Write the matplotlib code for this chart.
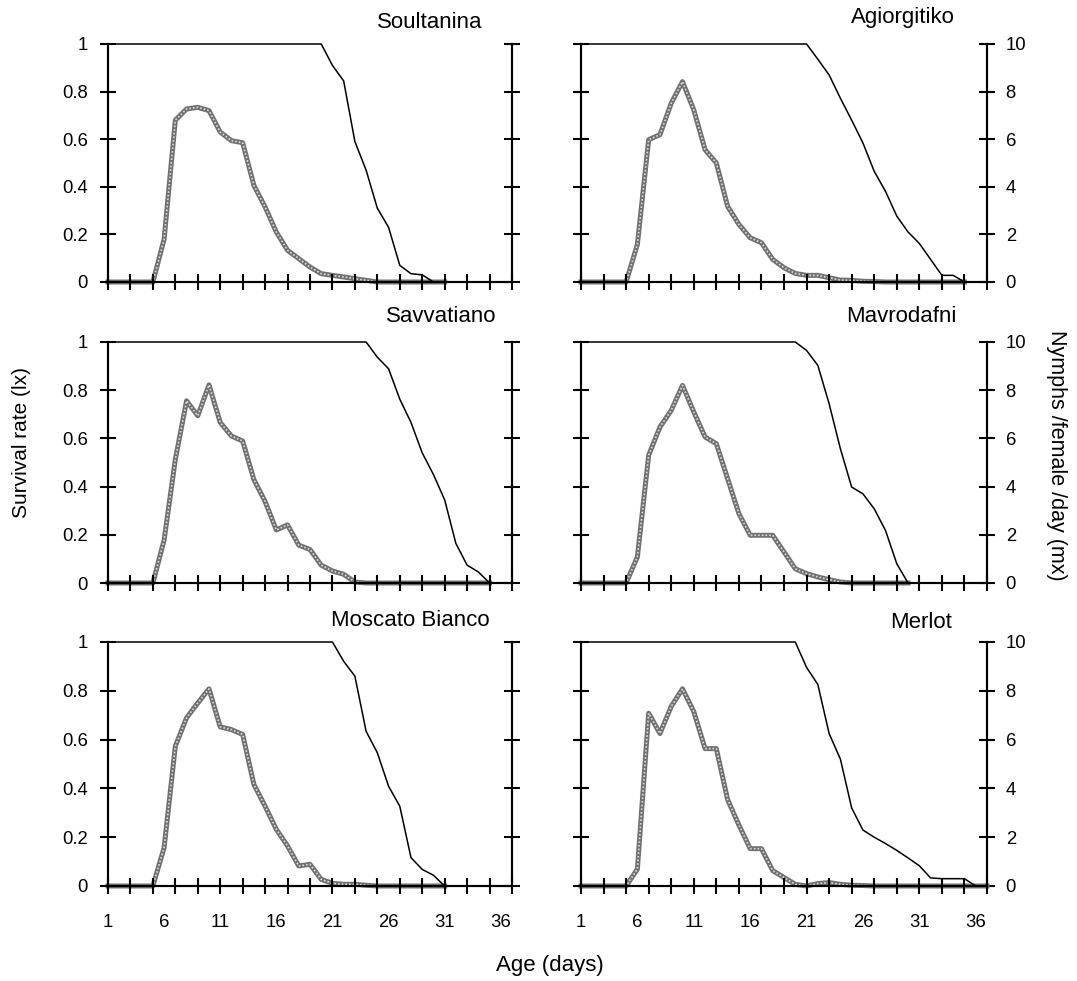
import numpy as np
import matplotlib
matplotlib.use("Agg")
import matplotlib.pyplot as plt

plt.rcParams['font.family'] = ['Liberation Sans', 'DejaVu Sans']

# ---------------- data (daily values, day 1 onward) ----------------
cultivars = ["Soultanina", "Agiorgitiko", "Savvatiano", "Mavrodafni",
             "Moscato Bianco", "Merlot"]

soultanina_lx = [1.0] * 20 + [0.91, 0.845, 0.59, 0.47, 0.31, 0.23, 0.07, 0.035, 0.03, 0.0]
soultanina_mx = [0, 0, 0, 0, 0, 1.8, 6.8, 7.27, 7.34, 7.2, 6.3, 5.94, 5.85, 4.06, 3.15,
                 2.1, 1.33, 0.98, 0.63, 0.35, 0.28, 0.21, 0.14, 0.07, 0, 0, 0, 0, 0, 0, 0]

agiorgitiko_lx = [1.0] * 21 + [0.936, 0.87, 0.772, 0.68, 0.584, 0.465, 0.381, 0.277, 0.21,
                               0.162, 0.095, 0.028, 0.028, 0.0]
agiorgitiko_mx = [0, 0, 0, 0, 0, 1.58, 5.98, 6.19, 7.51, 8.42, 7.23, 5.56, 5.0, 3.18, 2.42,
                  1.86, 1.65, 0.95, 0.6, 0.36, 0.28, 0.28, 0.18, 0.08, 0.07,
                  0.03, 0.02, 0, 0, 0, 0, 0, 0, 0, 0]

savvatiano_lx = [1.0] * 24 + [0.937, 0.889, 0.763, 0.666, 0.54, 0.45, 0.345, 0.164, 0.074,
                              0.046, 0.0]
savvatiano_mx = [0, 0, 0, 0, 0, 1.78, 5.13, 7.56, 6.94, 8.22, 6.66, 6.1, 5.89, 4.29, 3.38,
                 2.2, 2.41, 1.57, 1.39, 0.74, 0.5, 0.36, 0.04,
                 0, 0, 0, 0, 0, 0, 0, 0, 0, 0, 0, 0]

mavrodafni_lx = [1.0] * 20 + [0.965, 0.903, 0.744, 0.557, 0.398, 0.37, 0.308, 0.218, 0.08, 0.0]
mavrodafni_mx = [0, 0, 0, 0, 0, 1.08, 5.3, 6.47, 7.16, 8.2, 7.1, 6.06, 5.78, 4.33, 2.88,
                 1.98, 1.98, 1.98, 1.29, 0.59, 0.39, 0.25, 0.14, 0.04, 0, 0, 0, 0, 0, 0]

moscato_lx = [1.0] * 21 + [0.921, 0.86, 0.634, 0.546, 0.409, 0.327, 0.116, 0.068, 0.044, 0.0]
moscato_mx = [0, 0, 0, 0, 0, 1.57, 5.73, 6.89, 7.5, 8.08, 6.52, 6.41, 6.21, 4.16, 3.27,
              2.32, 1.64, 0.82, 0.89, 0.27, 0.11, 0.07, 0.07, 0.03, 0, 0, 0, 0, 0, 0, 0]

merlot_lx = [1.0] * 20 + [0.896, 0.826, 0.625, 0.52, 0.32, 0.229, 0.2, 0.174, 0.146, 0.115,
                          0.083, 0.033, 0.03, 0.03, 0.03, 0.0]
merlot_mx = [0, 0, 0, 0, 0, 0.69, 7.08, 6.25, 7.36, 8.08, 7.15, 5.63, 5.63, 3.54, 2.5,
             1.53, 1.53, 0.63, 0.35, 0.07, 0, 0.1, 0.14, 0.07,
             0.03, 0.02, 0, 0, 0, 0, 0, 0, 0, 0, 0, 0, 0]

lx_series = [soultanina_lx, agiorgitiko_lx, savvatiano_lx, mavrodafni_lx, moscato_lx, merlot_lx]
mx_series = [soultanina_mx, agiorgitiko_mx, savvatiano_mx, mavrodafni_mx, moscato_mx, merlot_mx]

lx_ticks = [0, 0.2, 0.4, 0.6, 0.8, 1]
lx_ticklabels = ["0", "0.2", "0.4", "0.6", "0.8", "1"]
mx_ticks = [0, 2, 4, 6, 8, 10]
mx_ticklabels = ["0", "2", "4", "6", "8", "10"]
age_labels = [1, 6, 11, 16, 21, 26, 31, 36]

# ---------------- layout ----------------
W, H = 1077, 981
fig = plt.figure(figsize=(W / 100, H / 100), dpi=100)

col_x = [(108, 512), (581, 987)]
row_y = [(44, 282), (342, 583), (642, 886)]
title_pos = [(482, 23), (955, 18), (496, 317), (957, 317), (490, 620), (952, 623)]

FS_TICK = 13.3
FS_TITLE = 16

for i in range(6):
    r, c = divmod(i, 2)
    x0, x1 = col_x[c]
    y0, y1 = row_y[r]
    ax = fig.add_axes([x0 / W, 1 - y1 / H, (x1 - x0) / W, (y1 - y0) / H])
    ax2 = ax.twinx()

    lx = lx_series[i]
    mx = mx_series[i]
    d_lx = np.arange(1, len(lx) + 1)
    d_mx = np.arange(1, len(mx) + 1)

    ax2.plot(d_mx, mx, color='#707070', lw=3.6, solid_joinstyle='round', zorder=2, clip_on=False)
    ax2.plot(d_mx, mx, color='#dcdcdc', lw=1.2, linestyle=(0, (1, 1.2)), zorder=3, clip_on=False)
    ax.plot(d_lx, lx, color='black', lw=1.1, zorder=4, clip_on=False)

    for a in (ax, ax2):
        a.set_xlim(1, 37)
        a.spines['top'].set_visible(False)
        for s in ('left', 'right', 'bottom'):
            a.spines[s].set_linewidth(1.5)
        a.patch.set_visible(False)
    ax.set_zorder(ax2.get_zorder() + 1)
    ax.set_ylim(0, 1)
    ax2.set_ylim(0, 10)

    ax.set_yticks(lx_ticks)
    ax2.set_yticks(mx_ticks)
    ax.tick_params(axis='y', direction='inout', length=11, width=1.5, labelsize=FS_TICK, pad=9)
    ax2.tick_params(axis='y', direction='inout', length=11, width=1.5, labelsize=FS_TICK, pad=8)
    if c == 0:
        ax.set_yticklabels(lx_ticklabels)
        ax2.set_yticklabels([])
    else:
        ax.set_yticklabels([])
        ax2.set_yticklabels(mx_ticklabels)

    ax.xaxis.remove_overlapping_locs = False
    ax.set_xticks(np.arange(1, 38, 2))
    ax.set_xticklabels([])
    ax.tick_params(axis='x', which='major', direction='inout', length=11, width=1.5)
    ax2.tick_params(axis='x', which='both', length=0)
    if r == 2:
        ax.set_xticks(age_labels, minor=True)
        ax.set_xticklabels([str(v) for v in age_labels], minor=True)
        ax.tick_params(axis='x', which='minor', length=0, labelsize=FS_TICK, pad=20)
    else:
        ax.tick_params(axis='x', which='minor', length=0)

    tx, ty = title_pos[i]
    fig.text(tx / W, 1 - ty / H, cultivars[i], ha='right', va='center', fontsize=FS_TITLE)

fig.text(22 / W, 1 - 442 / H, "Survival rate (lx)", rotation=90, ha='center', va='center',
         fontsize=15)
fig.text(1057 / W, 1 - 455 / H, "Nymphs /female /day (mx)", rotation=-90, ha='center',
         va='center', fontsize=15.5)
fig.text(550 / W, 1 - 965 / H, "Age (days)", ha='center', va='center', fontsize=16)

fig.savefig("out.png", dpi=100)
